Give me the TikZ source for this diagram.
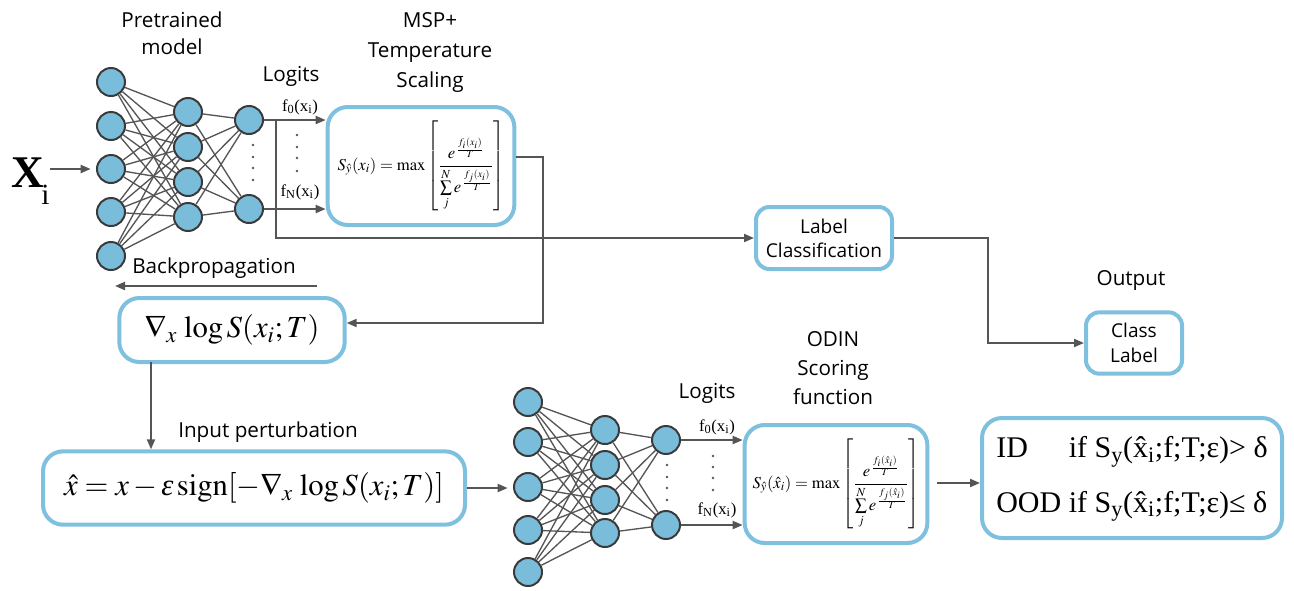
\documentclass[tikz,border=0pt]{standalone}
\usepackage{mathptmx}
\usepackage{fontspec}
\setmainfont{Liberation Serif}
\setsansfont{Open Sans}
\usetikzlibrary{arrows.meta,calc}
\definecolor{boxblue}{HTML}{7EC0DE}
\definecolor{nodeblue}{HTML}{7ABDDB}
\definecolor{linegray}{HTML}{555555}
\definecolor{rimgray}{HTML}{3A3A3A}

\begin{document}
\begin{tikzpicture}[x=0.75pt,y=-0.75pt,
  neuron/.style={circle,draw=rimgray,line width=1.5pt,fill=nodeblue,minimum size=21pt,inner sep=0pt},
  wire/.style={draw=linegray,line width=1pt},
  flow/.style={draw=linegray,line width=1.5pt,-{Triangle[length=7.5pt,width=6pt]}},
  panel/.style={draw=boxblue,line width=3pt,fill=white,rounded corners=15pt,inner sep=0pt,align=center},
  smallpanel/.style={panel,rounded corners=10pt},
  tag/.style={font=\sffamily\fontsize{15.5}{20}\selectfont,align=center},
  logit/.style={font=\fontsize{12.5}{14}\selectfont,inner sep=0pt},
  formula/.style={font=\fontsize{12.5}{14}\selectfont},
  bigformula/.style={font=\fontsize{23}{26}\selectfont}]

\path[use as bounding box] (0,0) rectangle (1294,590);

% ---------- pretrained network ----------
\foreach \y [count=\k] in {82,126,169,212,256} \node[neuron] (ta\k) at (111,\y) {};
\foreach \y [count=\k] in {112,147,182,217} \node[neuron] (tb\k) at (188,\y) {};
\foreach \y [count=\k] in {120,209} \node[neuron] (tc\k) at (249,\y) {};
\foreach \i in {1,...,5} \foreach \j in {1,...,4} \draw[wire] (ta\i) -- (tb\j);
\foreach \i in {1,...,4} \foreach \j in {1,2} \draw[wire] (tb\i) -- (tc\j);
\foreach \y in {145,157,168,180} \fill[linegray] (253,\y) circle (1.1pt);
\foreach \y in {135,147,158,171} \fill[linegray] (297,\y) circle (1.1pt);

\node[tag,font=\sffamily\fontsize{15.5}{20}\selectfont] (ptm) at (172,33) {Pretrained\\model};
\node[tag] (lgt) at (291,76) {Logits};
\node[tag,font=\sffamily\fontsize{15.5}{22.5}\selectfont] (msptitle) at (430,52) {MSP+\\Temperature\\Scaling};

\node[anchor=base west,inner sep=0pt] (xin) at (11,187)
  {\fontsize{34}{34}\selectfont\bfseries X\kern-2pt\raisebox{-13pt}{\mdseries\fontsize{22}{22}\selectfont i}};

% ---------- MSP box ----------
\node[panel,minimum width=140pt,minimum height=88.5pt,formula] (msp) at (421,166)
  {$\displaystyle S_{\hat{y}}(x_i)=\max\left[\frac{e^{\,\frac{f_i(x_i)}{T}}}{\sum\limits_{j}^{N} e^{\,\frac{f_j(x_i)}{T}}}\right]$};

\node[logit] (f0t) at (300,107) {f\textsubscript{0}(x\textsubscript{i})};
\node[logit] (fNt) at (300,192) {f\textsubscript{N}(x\textsubscript{i})};

% ---------- label path ----------
\node[smallpanel,minimum width=102pt,minimum height=46.5pt,font=\sffamily\fontsize{14.3}{18}\selectfont] (lc) at (824,238) {Label\\Classification};
\node[tag] (outt) at (1131,280) {Output};
\node[smallpanel,minimum width=72pt,minimum height=46pt,font=\sffamily\fontsize{14.3}{19}\selectfont] (cl) at (1134,343) {Class\\Label};

% ---------- gradient and perturbation ----------
\node[tag] (bpt) at (214,268) {Backpropagation};
\node[panel,minimum width=169pt,minimum height=48pt,bigformula] (grad) at (232,330) {$\nabla_{x}\,\log S(x_i;T)$};
\node[tag] (ipt) at (268,432) {Input perturbation};
\node[panel,minimum width=316.5pt,minimum height=55pt,bigformula] (xh) at (254,488)
  {$\hat{x}=x-\mbox{\itshape ε}\,\mathrm{sign}[-\nabla_{x}\,\log S(x_i;T)]$};

% ---------- ODIN network ----------
\foreach \y [count=\k] in {402,442,487,530,572} \node[neuron] (ba\k) at (528,\y) {};
\foreach \y [count=\k] in {430,465,500,533} \node[neuron] (bb\k) at (605,\y) {};
\foreach \y [count=\k] in {440,525} \node[neuron] (bc\k) at (666,\y) {};
\foreach \i in {1,...,5} \foreach \j in {1,...,4} \draw[wire] (ba\i) -- (bb\j);
\foreach \i in {1,...,4} \foreach \j in {1,2} \draw[wire] (bb\i) -- (bc\j);
\foreach \y in {465,477,488,500} \fill[linegray] (667,\y) circle (1.1pt);
\foreach \y in {456,467,478,490} \fill[linegray] (713,\y) circle (1.1pt);

\node[tag] (lgt2) at (707,393) {Logits};
\node[tag,font=\sffamily\fontsize{15.5}{22}\selectfont] (odintitle) at (833,368) {ODIN\\Scoring\\function};

\node[logit] (g0t) at (717,427) {f\textsubscript{0}(x\textsubscript{i})};
\node[logit] (gNt) at (717,510) {f\textsubscript{N}(x\textsubscript{i})};

\node[panel,minimum width=137pt,minimum height=88.5pt,formula] (odin) at (836,484)
  {$\displaystyle S_{\hat{y}}(\hat{x}_i)=\max\left[\frac{e^{\,\frac{f_i(\hat{x}_i)}{T}}}{\sum\limits_{j}^{N} e^{\,\frac{f_j(\hat{x}_i)}{T}}}\right]$};

\node[panel,minimum width=225pt,minimum height=90pt,font=\fontsize{22.5}{26}\selectfont] (idb) at (1132,478)
  {\begin{tabular}{@{}l@{\ }l@{}}
   ID & if S\textsubscript{y}(\^{x}\textsubscript{i};f;T;ε)> δ\\[15pt]
   OOD & if S\textsubscript{y}(\^{x}\textsubscript{i};f;T;ε)≤ δ
   \end{tabular}};

% ---------- connectors ----------
\draw[flow,shorten >=4pt] (xin.east |- ta3) -- (ta3);
\draw[flow] (tc1) -- (tc1 -| msp.west);
\draw[flow] (tc2) -- (tc2 -| msp.west);
\coordinate (br) at (276,120);
\draw[flow] (br) |- (lc.west);

\coordinate (m1) at (543,157);
\coordinate (m2) at (543,323);
\draw[flow] (msp.east |- m1) -- (m1) -- (m2) -- (grad.east |- m2);

\coordinate (k1) at (988,343);
\draw[flow] (lc.east) -| (k1) -- (cl.west);

\coordinate (bp1) at (317,286);
\coordinate (bp2) at (115,286);
\draw[flow] (bp1) -- (bp2);

\coordinate (v1) at (151,362);
\draw[flow] (v1) -- (v1 |- xh.north);

\draw[flow,shorten >=4pt] (xh.east) -- (xh.east -| ba3.west);
\draw[flow] (bc1) -- (bc1 -| odin.west);
\draw[flow] (bc2) -- (bc2 -| odin.west);
\coordinate (oi) at (937,483);
\draw[flow] (oi) -- (oi -| idb.west);
\end{tikzpicture}
\end{document}
